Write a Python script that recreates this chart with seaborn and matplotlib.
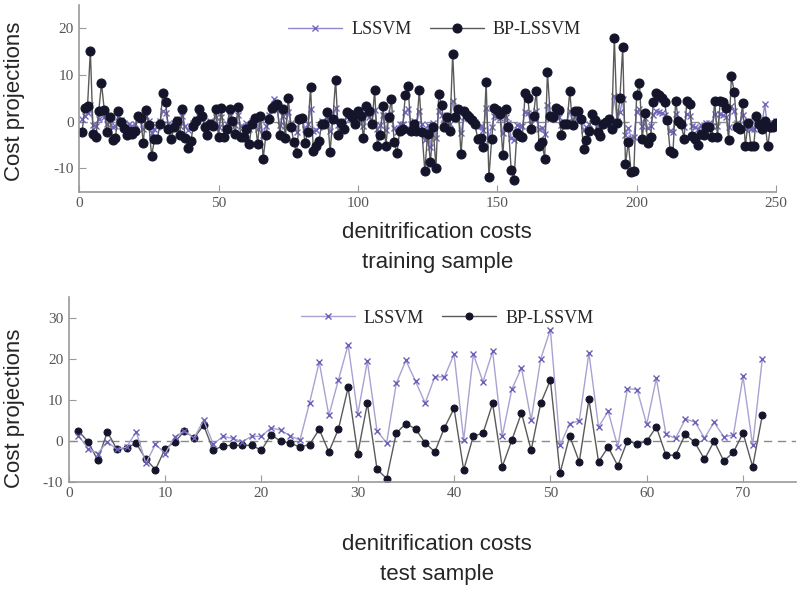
import numpy as np
import pandas as pd
import matplotlib
matplotlib.use("Agg")
import matplotlib.pyplot as plt
import seaborn as sns

# training sample (250 points)
train_bp = [
    -2.3, 2.9, 3.4, 15.2, -2.6, -3.3, 2.2, 8.2, 2.5, -2.3,
    0.9, -4.0, -3.6, 2.2, 0.0, -1.3, -2.8, -2.0, -2.6, -1.9,
    1.3, 0.8, -4.5, 2.5, -0.8, -7.3, -3.8, -3.8, -0.5, 6.1,
    4.3, -1.5, -3.8, -1.2, 0.2, -2.9, 2.7, -3.4, -5.6, -4.2,
    -1.0, 0.2, 2.7, 1.3, -1.2, -2.8, -0.5, -1.0, 2.7, -3.3,
    2.9, -3.3, -1.5, 2.7, 0.2, -2.6, 3.2, -3.3, -3.3, -1.5,
    -4.7, -0.5, 0.8, -4.7, 1.2, -7.9, -2.9, 0.6, 2.9, 3.4,
    3.8, -2.9, 2.7, -3.5, 5.0, -1.1, -4.4, -6.7, 0.6, 0.8,
    -4.5, -2.3, 7.4, -6.2, -5.1, -4.2, -0.5, -0.6, 2.1, -6.5,
    0.5, 9.0, -2.9, -0.2, -1.6, 2.0, 1.6, 1.0, -0.5, 2.3,
    1.3, -3.5, 3.4, 2.3, -0.6, 6.7, -5.1, -2.9, 3.4, -5.3,
    1.0, 4.8, -4.4, -6.7, -1.9, -1.6, 5.7, 7.7, -1.9, -0.5,
    -1.9, 6.7, -2.3, -10.6, -2.6, -8.6, -1.1, -10.0, 6.0, 3.5,
    -1.2, 1.0, -1.9, 14.5, 1.1, 2.7, -7.0, 2.2, 1.4, 1.0,
    0.3, -0.6, -3.7, -3.5, -5.5, 8.5, -11.9, -3.7, 3.0, 2.5,
    1.6, -7.2, 2.7, -1.2, -10.4, -12.5, -2.5, -3.0, -3.3, 6.2,
    5.0, -1.6, 1.3, 6.6, -5.1, -4.4, -7.9, 10.6, 1.3, 1.0,
    2.9, 2.5, -2.8, -0.5, -0.6, 6.6, -0.7, 2.2, 2.2, 0.5,
    -5.8, -3.9, -1.9, 1.6, 0.3, -2.3, -3.0, -0.5, 0.0, 0.6,
    -1.5, 17.9, -0.2, 5.0, 15.9, -9.1, -4.4, -10.7, -10.6, 5.7,
    8.3, -3.7, 1.8, -4.6, -3.2, 4.1, 6.2, 5.7, 5.0, 4.2,
    0.3, -6.2, -6.8, 4.4, 0.2, -0.5, -3.7, 4.4, 3.7, -3.0,
    -3.7, -4.9, -2.6, -2.9, -1.2, -1.1, -3.2, 4.4, -3.2, 4.4,
    4.3, 2.9, -4.0, 9.7, 6.4, -1.1, -1.6, 3.9, -5.1, -0.2,
    -5.1, -5.1, 1.2, -0.4, -1.6, 0.2, -5.3, -1.2, -1.2, -0.2,
]
train_ls = [
    0.5, 1.2, 1.8, 3.5, -0.8, -1.0, 0.6, 2.0, 1.0, -0.5,
    0.3, -1.2, -1.0, 1.0, 0.4, -0.3, -1.1, -0.6, -0.9, -0.4,
    0.6, 0.5, -1.5, 1.2, 0.2, -2.5, -1.5, -1.2, 0.1, 2.2,
    1.8, -0.4, -1.2, -0.3, 0.6, -0.9, 1.3, -1.0, -1.8, -1.4,
    -0.2, 0.5, 1.2, 0.8, -0.3, -1.0, 0.1, -0.2, 1.1, -1.2,
    1.0, -1.3, -0.5, 1.2, 0.4, -0.8, 1.5, -1.0, -1.2, -0.3,
    -1.5, 0.2, 0.6, -1.6, 0.8, -2.8, -0.9, 1.5, 2.8, 4.8,
    2.5, -0.8, 1.2, -1.0, 2.0, -0.2, -1.4, -2.2, 0.5, 0.6,
    -1.5, -0.6, 2.6, -2.0, -1.8, -1.2, 0.2, 0.0, 1.0, -2.0,
    0.5, 3.0, -0.8, 0.2, -0.4, 1.0, 0.8, 0.6, 0.1, 1.0,
    0.6, -1.0, 1.4, 1.0, 0.0, 2.4, -1.6, -0.8, 1.4, -1.8,
    0.6, 1.9, -1.4, -2.3, -0.5, -0.4, 2.0, 2.8, -0.5, 0.1,
    -0.6, 2.2, -0.6, -4.0, -0.8, -5.5, -0.2, -3.6, 2.2, 1.4,
    -0.3, 0.5, -0.5, 4.5, 0.6, 1.2, -2.4, 1.0, 0.7, 0.5,
    0.3, 0.0, -1.1, -1.0, -1.8, 2.9, -3.8, -1.1, 1.2, 1.0,
    0.8, -2.4, 1.1, -0.3, -3.4, -4.0, -0.7, -0.9, -1.0, 2.1,
    1.8, -0.4, 0.6, 2.3, -1.6, -1.4, -2.6, 3.5, 0.6, 0.5,
    1.2, 1.0, -0.8, 0.0, -0.1, 2.2, -0.1, 1.0, 0.9, 0.3,
    -1.8, -1.2, -0.5, 0.8, 0.2, -0.7, -0.9, 0.0, 0.2, 0.4,
    -0.4, 5.5, 0.1, 2.0, 4.8, -2.8, -1.3, -3.4, -3.2, 2.0,
    2.8, -1.0, 0.8, -1.4, -0.9, 1.5, 2.2, 2.0, 1.8, 1.5,
    0.2, -2.0, -2.2, 1.6, 0.2, -0.1, -1.1, 1.6, 1.3, -0.9,
    -1.1, -1.5, -0.7, -0.8, -0.3, -0.3, -1.0, 1.6, -0.9, 1.6,
    1.5, 1.0, -1.2, 3.4, 2.2, -0.3, -0.4, 1.4, -1.6, 0.1,
    -1.5, -1.5, 0.5, 0.0, -0.4, 3.8, -1.6, -0.3, -0.3, 0.2,
]

# test sample (72 points)
test_bp = [
    2.4, -0.2, -4.7, 2.2, -2.1, -1.7, -0.6, -4.5, -7.0, -1.9,
    -0.3, 2.4, 0.7, 3.8, -2.3, -1.2, -1.1, -1.1, -1.1, -2.3,
    1.5, -0.1, -0.6, -1.5, -0.9, 2.8, -2.7, 2.9, 13.0, -3.1,
    9.1, -6.9, -9.2, 1.9, 4.2, 2.9, -0.5, -2.7, 3.2, 7.9,
    -7.1, 1.2, 1.8, 9.1, -6.3, 0.2, 6.8, -2.3, 9.2, 14.8,
    -7.9, 1.2, -5.1, 10.1, -5.1, -1.5, -6.1, 0.0, -0.8, -0.1,
    3.4, -3.5, -3.5, 1.6, -0.4, -4.5, -0.1, -4.9, -2.8, 1.9,
    -6.3, 6.2,
]
test_ls = [
    1.3, -1.9, -3.1, -0.2, -2.1, -1.5, 2.2, -5.5, -0.8, -3.1,
    1.0, 2.4, 0.7, 5.0, -0.8, 1.1, 0.6, -0.2, 1.1, 1.1,
    3.2, 2.6, 1.2, 0.2, 9.3, 19.2, 6.2, 14.9, 23.4, 6.5,
    19.4, 2.4, -0.5, 14.0, 19.6, 14.5, 9.2, 15.6, 15.6, 21.1,
    0.2, 21.1, 14.4, 21.8, 1.1, 12.6, 17.8, 5.0, 20.0, 27.1,
    -1.1, 4.2, 4.9, 21.4, 3.4, 7.2, -1.5, 12.7, 12.5, 4.0,
    15.2, 1.6, 0.6, 5.3, 4.6, 0.7, 4.5, 1.0, 1.4, 15.7,
    -1.1, 19.9,
]

train = pd.DataFrame({"n": np.arange(1, len(train_bp) + 1), "LSSVM": train_ls, "BP-LSSVM": train_bp})
test = pd.DataFrame({"n": np.arange(1, len(test_bp) + 1), "LSSVM": test_ls, "BP-LSSVM": test_bp})

sns.set_style("ticks")
plt.rcParams["font.family"] = ["Liberation Serif", "DejaVu Serif"]
plt.rcParams["axes.unicode_minus"] = False

label_font = {"family": "Liberation Sans", "size": 16}
legend_font = {"family": "Liberation Serif", "size": 13}

fig = plt.figure(figsize=(8, 5.92), dpi=100)
ax1 = fig.add_axes([0.099, 0.676, 0.871, 0.316])
ax2 = fig.add_axes([0.086, 0.186, 0.909, 0.312])


def draw(ax, df, ms_dot, ls_line, ls_mark, ls_z):
    ax.axhline(0, color="#8a8a8a", ls=(0, (6, 4)), lw=1, zorder=1)
    sns.lineplot(data=df, x="n", y="LSSVM", ax=ax, color=ls_line, lw=1,
                 marker="x", markersize=4, markeredgecolor=ls_mark,
                 markeredgewidth=1, label="LSSVM", zorder=ls_z)
    sns.lineplot(data=df, x="n", y="BP-LSSVM", ax=ax, color="#5a5a5a", lw=1,
                 marker="o", markersize=ms_dot, markerfacecolor="#14142a",
                 markeredgecolor="#14142a", label="BP-LSSVM", zorder=2.5)
    sns.despine(ax=ax)
    for s in ["left", "bottom"]:
        ax.spines[s].set_color("#9a9a9a")
        ax.spines[s].set_linewidth(1.2)
    ax.tick_params(direction="in", length=5, color="#9a9a9a", labelsize=11,
                   labelcolor="#555555", pad=4)
    ax.set_ylabel("Cost projections", fontdict=label_font)


draw(ax1, train, 6.5, "#8f88cc", "#7068bc", 2)
ax1.set_xlim(0, 250)
ax1.set_ylim(-15, 25)
ax1.set_xticks([0, 50, 100, 150, 200, 250])
ax1.set_yticks([-10, 0, 10, 20])
ax1.set_xlabel("denitrification costs\ntraining sample", fontdict=label_font, linespacing=1.6)
ax1.xaxis.set_label_coords(0.514, -0.16)
ax1.yaxis.set_label_coords(-0.078, 0.484)
ax1.legend(loc="upper center", bbox_to_anchor=(0.51, 1.0), ncol=2, frameon=False,
           prop=legend_font, handlelength=3.0, handletextpad=0.5, columnspacing=1.0)

draw(ax2, test, 5, "#a8a2d2", "#6a60b8", 3)
ax2.set_xlim(0, 75.5)
ax2.set_ylim(-10, 35)
ax2.set_xticks([0, 10, 20, 30, 40, 50, 60, 70])
ax2.set_yticks([-10, 0, 10, 20, 30])
ax2.set_xlabel("denitrification costs\ntest sample", fontdict=label_font, linespacing=1.6)
ax2.xaxis.set_label_coords(0.506, -0.28)
ax2.yaxis.set_label_coords(-0.06, 0.4)
ax2.legend(loc="upper center", bbox_to_anchor=(0.52, 1.02), ncol=2, frameon=False,
           prop=legend_font, handlelength=3.0, handletextpad=0.5, columnspacing=1.0)

fig.savefig("out.png", dpi=100)
